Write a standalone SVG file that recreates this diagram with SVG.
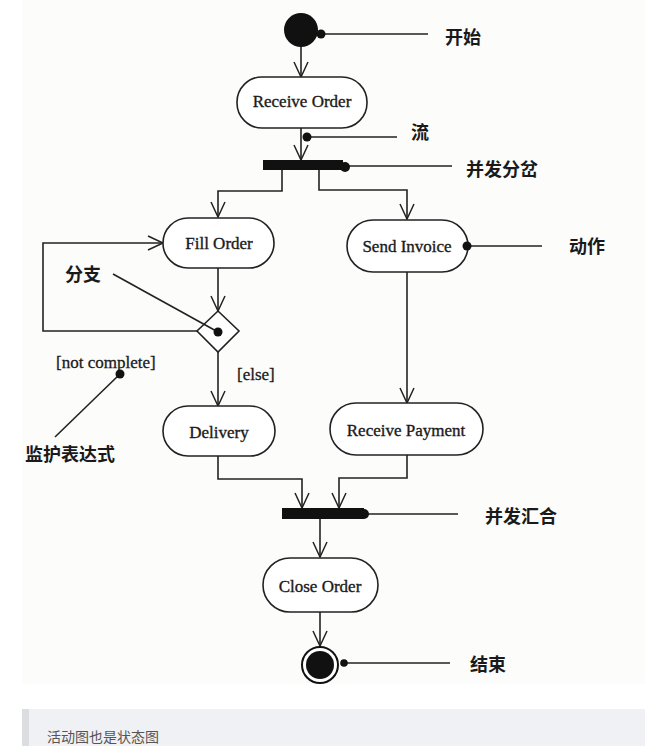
<svg xmlns="http://www.w3.org/2000/svg" width="645" height="746" viewBox="0 0 645 746">
<style>
.bg{fill:#fcfcfb}
.node{fill:#fff;stroke:#222;stroke-width:1.6}
.lbl{font-family:"Liberation Serif","Times New Roman",serif;font-size:17px;fill:#1a1a1a;stroke:#1a1a1a;stroke-width:0.35;text-anchor:middle}
.gl{font-family:"Liberation Serif","Times New Roman",serif;font-size:17px;fill:#1a1a1a;stroke:#1a1a1a;stroke-width:0.3}
.cn{font-family:"Liberation Serif","Noto Sans CJK SC",serif;font-size:18px;fill:#1a1a1a;font-weight:bold}
.edge{fill:none;stroke:#222;stroke-width:1.6;marker-end:url(#arr)}
.note{fill:none;stroke:#222;stroke-width:1.6}
.dot{fill:#111}
</style>
<defs>
<marker id="arr" markerWidth="18" markerHeight="18" refX="16" refY="8" orient="auto" markerUnits="userSpaceOnUse">
<path d="M1,1 L16,8 L1,15" fill="none" stroke="#222" stroke-width="1.5"/>
</marker>
</defs>
<rect class="bg" x="22" y="0" width="623" height="684"/>
<g id="caption">
<rect x="22" y="709" width="623" height="37" fill="#f0f1f4"/>
<rect x="22" y="709" width="7" height="37" fill="#dcdde1"/>
<text x="47" y="742" font-family="'Noto Sans CJK SC',sans-serif" font-size="14" fill="#555">活动图也是状态图</text>
</g>
<g id="connectors">
<line class="edge" x1="301" y1="46" x2="301" y2="77"/>
<line class="edge" x1="301" y1="128" x2="301" y2="160"/>
<polyline class="edge" points="282,170 282,191 218,191 218,217"/>
<polyline class="edge" points="319,170 319,190 407,190 407,219"/>
<line class="edge" x1="218" y1="268" x2="218" y2="311"/>
<line class="edge" x1="218" y1="352" x2="218" y2="406"/>
<polyline class="edge" points="197,331 43,331 43,243 163,243"/>
<line class="edge" x1="407" y1="272" x2="407" y2="403"/>
<polyline class="edge" points="218,455 218,479 302,479 302,508"/>
<polyline class="edge" points="407,455 407,478 339,478 339,508"/>
<line class="edge" x1="320" y1="519" x2="320" y2="557"/>
<line class="edge" x1="320" y1="612" x2="320" y2="646"/>
</g>
<g id="start">
<circle cx="301" cy="30" r="17" fill="#111"/>
</g>
<g id="receive-order">
<rect class="node" x="237" y="77" width="130" height="51" rx="25"/>
<text class="lbl" x="302" y="107">Receive Order</text>
</g>
<g id="fork">
<rect x="263" y="160" width="80" height="10" fill="#111"/>
</g>
<g id="fill-order">
<rect class="node" x="163" y="218" width="111" height="50" rx="25"/>
<text class="lbl" x="219" y="249">Fill Order</text>
</g>
<g id="send-invoice">
<rect class="node" x="347" y="220" width="121" height="52" rx="26"/>
<text class="lbl" x="407" y="252">Send Invoice</text>
</g>
<g id="branch">
<path class="node" d="M218,311 L239,331 L218,352 L197,331 Z"/>
</g>
<g id="delivery">
<rect class="node" x="163" y="406" width="112" height="50" rx="25"/>
<text class="lbl" x="219" y="438">Delivery</text>
</g>
<g id="receive-payment">
<rect class="node" x="330" y="403" width="153" height="52" rx="26"/>
<text class="lbl" x="406" y="436">Receive Payment</text>
</g>
<g id="join">
<rect x="282" y="508" width="82" height="11" fill="#111"/>
</g>
<g id="close-order">
<rect class="node" x="263" y="558" width="115" height="54" rx="27"/>
<text class="lbl" x="320" y="592">Close Order</text>
</g>
<g id="end">
<circle cx="320" cy="665" r="18" fill="#fff" stroke="#111" stroke-width="2"/>
<circle cx="320" cy="665" r="14" fill="#111"/>
</g>
<g id="annotations">
<line class="note" x1="321" y1="34" x2="428" y2="34"/>
<circle class="dot" cx="321" cy="34" r="4.5"/>
<text class="cn" x="445" y="44">开始</text>
<line class="note" x1="307" y1="137" x2="397" y2="137"/>
<circle class="dot" cx="307" cy="137" r="4.5"/>
<text class="cn" x="411" y="139">流</text>
<line class="note" x1="345" y1="166" x2="452" y2="166"/>
<circle class="dot" cx="345" cy="167" r="5"/>
<text class="cn" x="466" y="176">并发分岔</text>
<line class="note" x1="467" y1="246" x2="542" y2="246"/>
<circle class="dot" cx="467" cy="246" r="4.5"/>
<text class="cn" x="569" y="253">动作</text>
<line class="note" x1="113" y1="274" x2="218" y2="332"/>
<circle class="dot" cx="218" cy="332" r="4.5"/>
<text class="cn" x="65" y="281">分支</text>
<text class="gl" x="56" y="368">[not complete]</text>
<line class="note" x1="120" y1="374" x2="55" y2="437"/>
<circle class="dot" cx="120" cy="374" r="4.5"/>
<text class="cn" x="25" y="461">监护表达式</text>
<text class="gl" x="237" y="380">[else]</text>
<line class="note" x1="365" y1="514" x2="458" y2="514"/>
<circle class="dot" cx="364" cy="514" r="5"/>
<text class="cn" x="485" y="523">并发汇合</text>
<line class="note" x1="344" y1="663" x2="450" y2="663"/>
<circle class="dot" cx="344" cy="663" r="3.8"/>
<text class="cn" x="470" y="671">结束</text>
</g>
</svg>
